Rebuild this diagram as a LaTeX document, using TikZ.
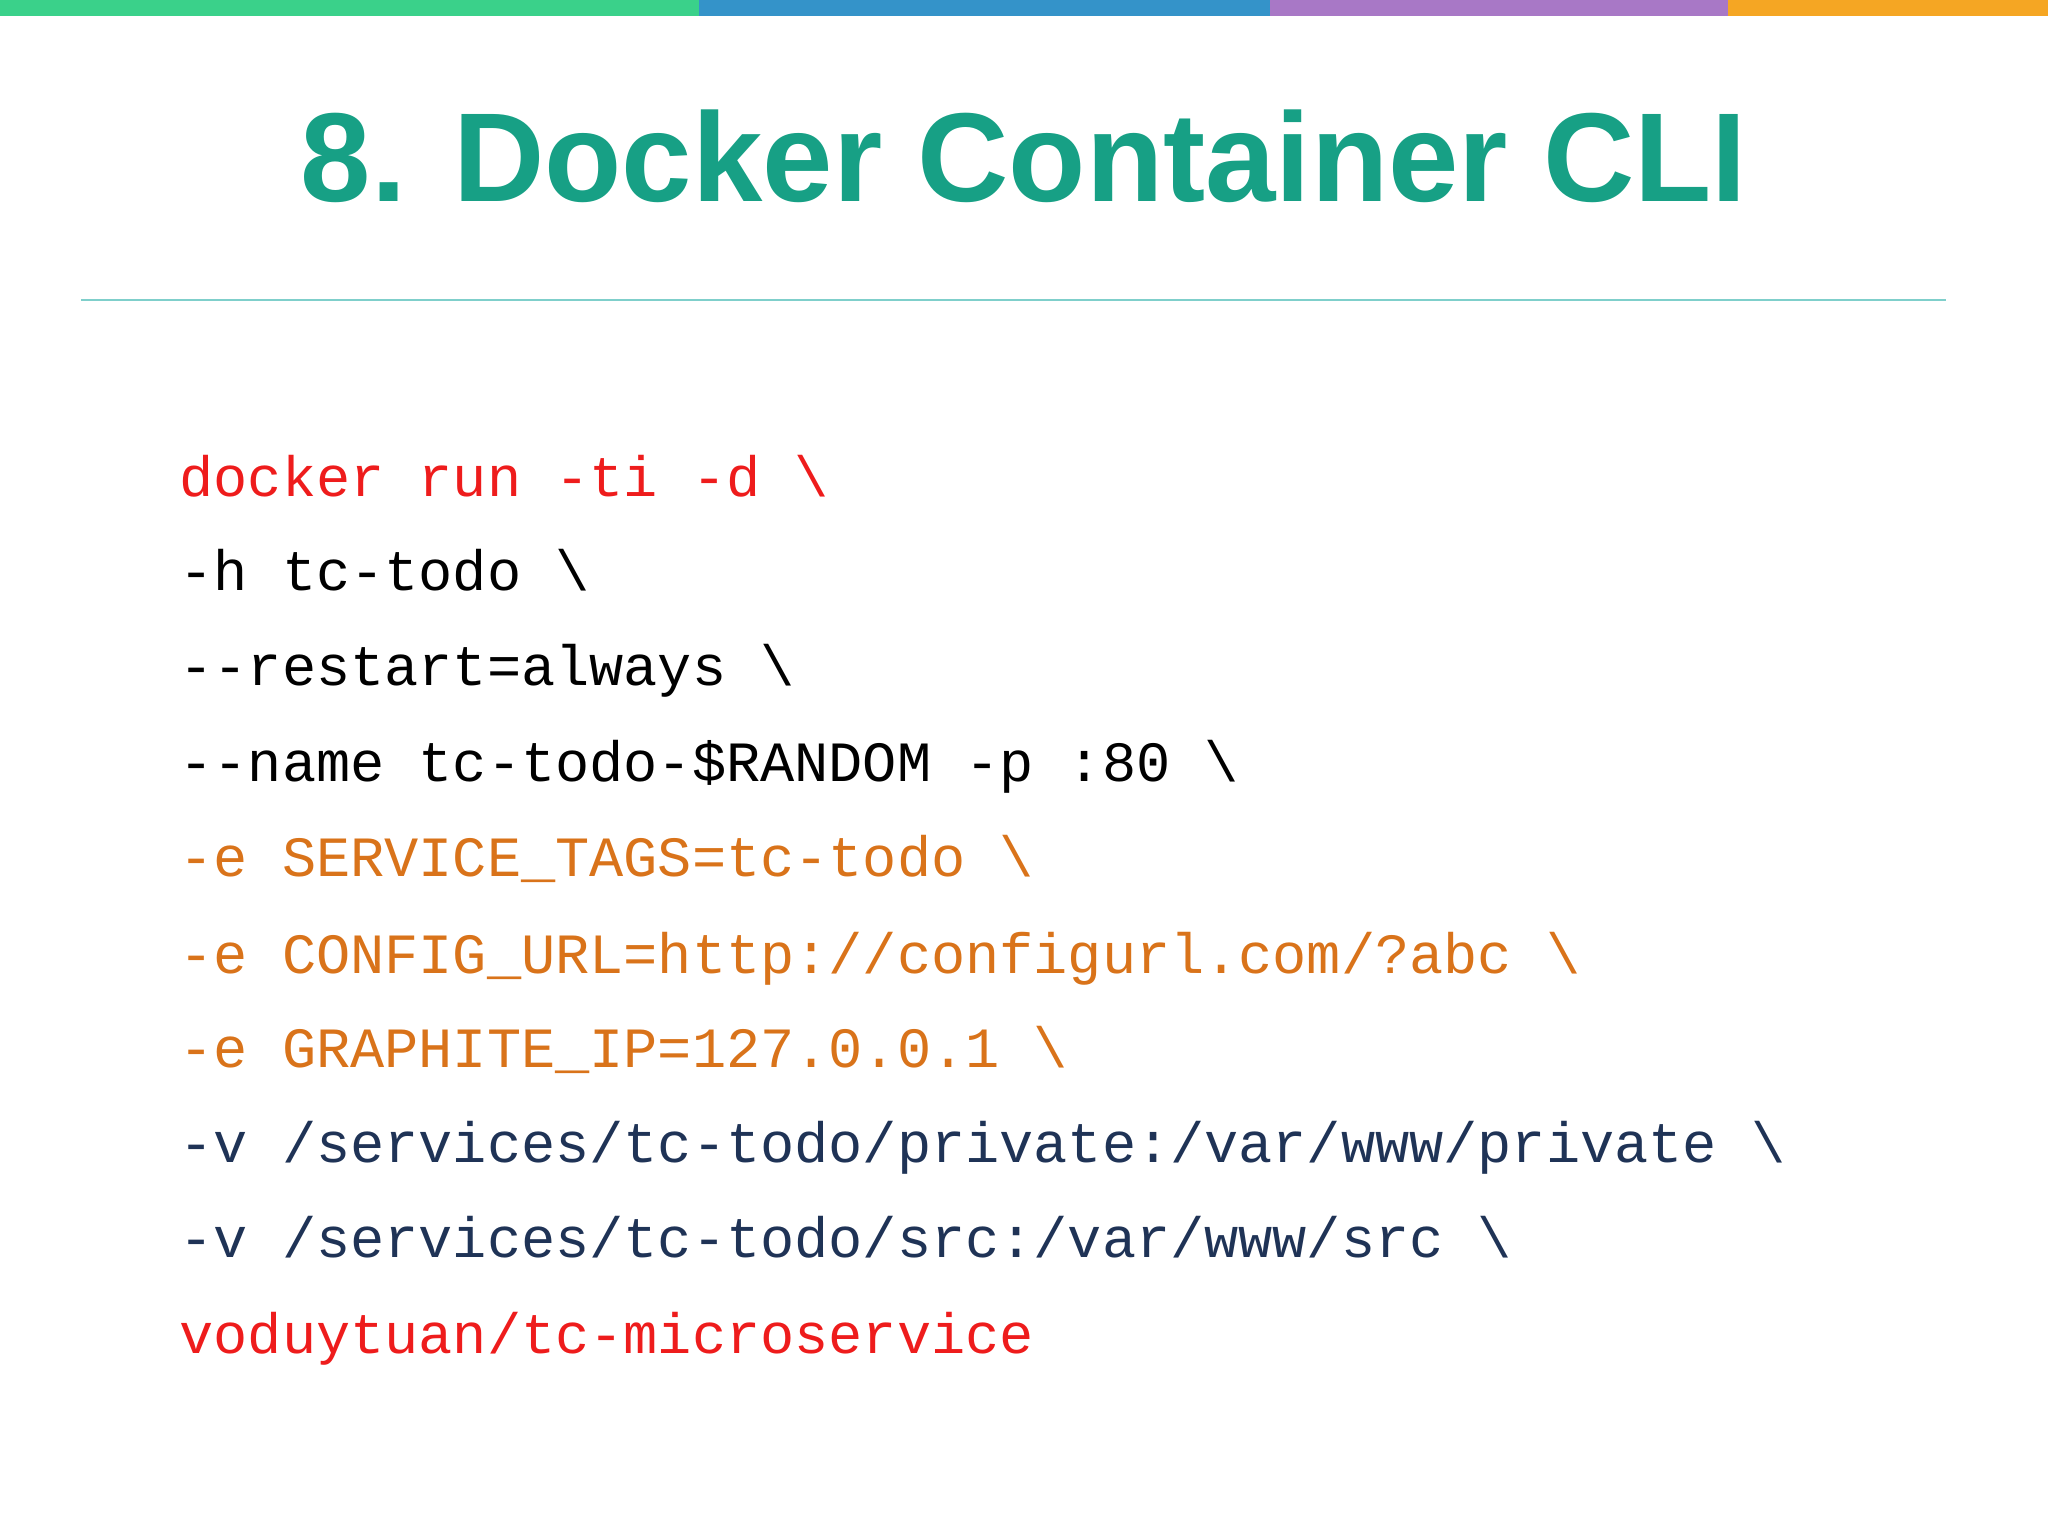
\documentclass[tikz,border=0pt]{standalone}
\usepackage{fontspec}
\setmainfont{Liberation Sans}
\newfontfamily\codefont{Liberation Mono}
\definecolor{cgreen}{HTML}{3AD18A}
\definecolor{cblue}{HTML}{3493C9}
\definecolor{cpurple}{HTML}{A878C6}
\definecolor{corange}{HTML}{F5A623}
\definecolor{teal}{HTML}{17A085}
\definecolor{cred}{HTML}{EE1C1C}
\definecolor{corg}{HTML}{D9731A}
\definecolor{cnavy}{HTML}{1F3356}
\definecolor{cline}{HTML}{7FCFCB}
\tikzset{code/.style={anchor=base west,inner sep=0pt,font=\codefont\fontsize{16.2}{18}\selectfont}}
\begin{document}
\begin{tikzpicture}[x=0.01306cm,y=-0.01306cm]
\useasboundingbox (0,0) rectangle (1568,1176);
\fill[cgreen] (0,0) rectangle (535,12);
\fill[cblue] (535,0) rectangle (972,12);
\fill[cpurple] (972,0) rectangle (1323,12);
\fill[corange] (1323,0) rectangle (1568,12);
\node[text=teal,font=\fontsize{36}{40}\selectfont\bfseries,inner sep=0pt] (title) at (784,120) {8. Docker Container CLI};
\draw[cline,line width=0.6pt] (62,230) -- (1490,230);
\node[code,text=cred] (l1) at (137,380) {docker run -ti -d \textbackslash};
\node[code,text=black] (l2) at (137,452) {-h tc-todo \textbackslash};
\node[code,text=black] (l3) at (137,525) {--restart=always \textbackslash};
\node[code,text=black] (l4) at (137,598) {--name tc-todo-\$RANDOM -p :80 \textbackslash};
\node[code,text=corg] (l5) at (137,671) {-e SERVICE\_TAGS=tc-todo \textbackslash};
\node[code,text=corg] (l6) at (137,745) {-e CONFIG\_URL=http://configurl.com/?abc \textbackslash};
\node[code,text=corg] (l7) at (137,817) {-e GRAPHITE\_IP=127.0.0.1 \textbackslash};
\node[code,text=cnavy] (l8) at (137,890) {-v /services/tc-todo/private:/var/www/private \textbackslash};
\node[code,text=cnavy] (l9) at (137,963) {-v /services/tc-todo/src:/var/www/src \textbackslash};
\node[code,text=cred] (l10) at (137,1036) {voduytuan/tc-microservice};
\end{tikzpicture}
\end{document}
